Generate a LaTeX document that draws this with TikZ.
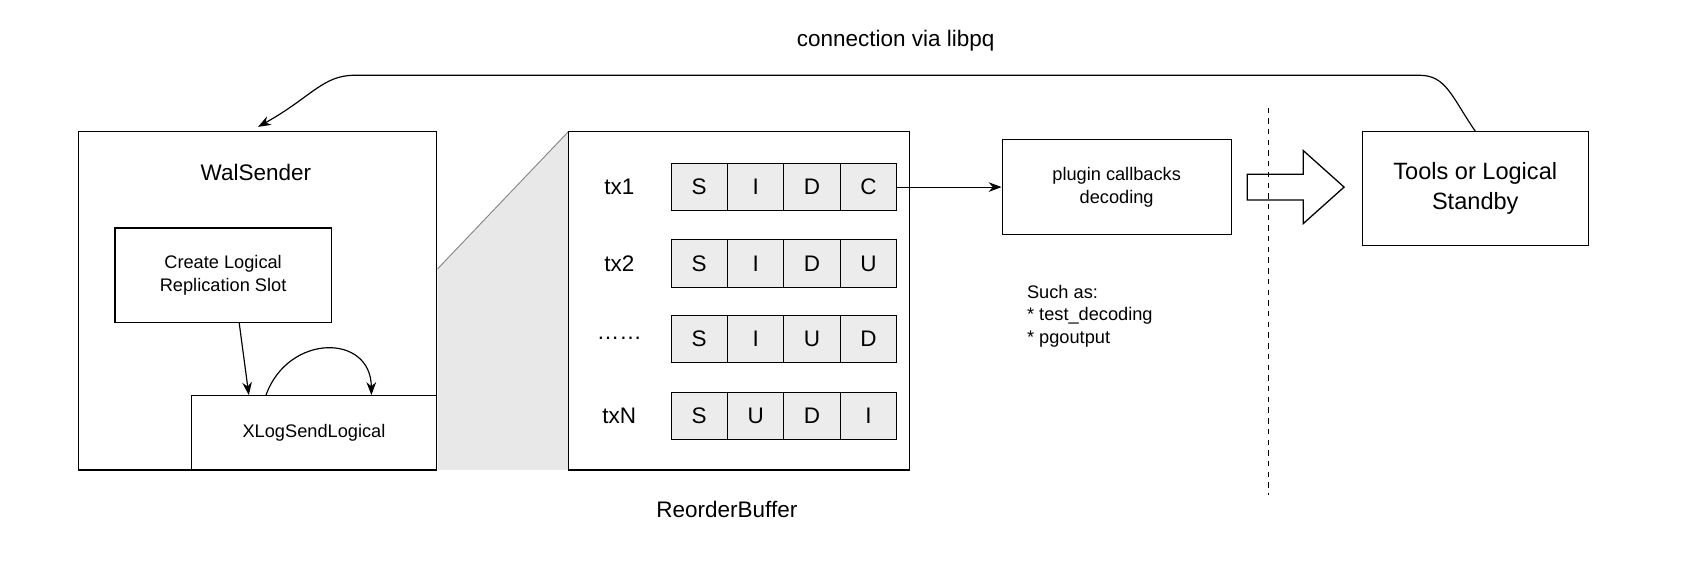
\documentclass[tikz,border=0pt]{standalone}
\usepackage{fontspec}
\setmainfont{Liberation Sans}
\usetikzlibrary{arrows.meta,calc}
\begin{document}
\begin{tikzpicture}[x=1bp,y=-1bp,
  box/.style={draw,line width=1.2pt,fill=white},
  cell/.style={draw,line width=0.8pt,fill=gray!15,minimum width=52.5bp,minimum height=44bp,inner sep=0pt,font=\fontsize{21}{24}\selectfont},
  lbl/.style={font=\fontsize{21}{24}\selectfont},
  arr/.style={-{Stealth[length=12pt,width=9pt]},line width=1.1pt}]
\useasboundingbox (0,0) rectangle (1568,532);
\fill[white] (0,0) rectangle (1568,532);
\node[lbl] (conn) at (833,38) {connection via libpq};
% WalSender
\draw[box] (73,122) rectangle (406,437);
\node[lbl] (ws) at (238,160) {WalSender};
\node[box,minimum width=201bp,minimum height=88bp,align=center,font=\fontsize{17}{22}\selectfont] (cls) at (207.5,256) {Create Logical\\Replication Slot};
\node[box,minimum width=228bp,minimum height=69bp,font=\fontsize{17}{20}\selectfont] (xl) at (292,402.5) {XLogSendLogical};
\draw[arr] ($(cls.south)+(15,0)$) -- ($(xl.north west)+(54,0)$);
\draw[arr] ($(xl.north west)+(70,0)$) .. controls (268,310) and (345,310) .. ($(xl.north west)+(168,0)$);
% trapezoid
\fill[gray!18] (407,250) -- (529,122) -- (529,437) -- (407,437) -- cycle;
\draw[line width=0.8pt,gray] (407,250) -- (529,122);
% ReorderBuffer
\draw[box] (529,122) rectangle (846,437);
\node[lbl] (rb) at (676,474) {ReorderBuffer};
\foreach \y/\t/\a/\b/\c/\d/\n in {174/tx1/S/I/D/C/r1,245/tx2/S/I/D/U/r2,315/{\ldots\ldots}/S/I/U/D/r3,387/txN/S/U/D/I/r4}{
  \node[lbl] (\n l) at (576,\y) {\t};
  \node[cell] (\n a) at (650.25,\y) {\a};
  \node[cell] (\n b) at (702.75,\y) {\b};
  \node[cell] (\n c) at (755.25,\y) {\c};
  \node[cell] (\n d) at (807.75,\y) {\d};
}
% plugin
\node[box,minimum width=213bp,minimum height=88bp,align=center,font=\fontsize{17}{22}\selectfont] (pl) at (1038.5,174) {plugin callbacks\\decoding};
\draw[arr] (r1d.east) -- (pl.west);
\node[align=left,anchor=north west,font=\fontsize{17}{21}\selectfont,inner sep=0pt] (such) at (955,265) {Such as:\\* test\_decoding\\* pgoutput};
% hollow arrow
\draw[line width=1.2pt,fill=white,line join=miter] (1160,162) -- (1212,162) -- (1212,140) -- (1250,174) -- (1212,208) -- (1212,186) -- (1160,186) -- cycle;
\coordinate (dt) at (1180,100); \coordinate (db) at (1180,460);
\draw[line width=1pt,dash pattern=on 5pt off 5pt] (dt) -- (db);
% tools
\node[box,minimum width=210bp,minimum height=106bp,align=center,font=\fontsize{22}{28}\selectfont] (tools) at (1372,175) {Tools or Logical\\Standby};
\draw[arr] (1372,122) .. controls (1350,90) and (1345,70) .. (1320,70) -- (330,70) .. controls (300,70) and (290,90) .. (240,118);
\end{tikzpicture}
\end{document}
